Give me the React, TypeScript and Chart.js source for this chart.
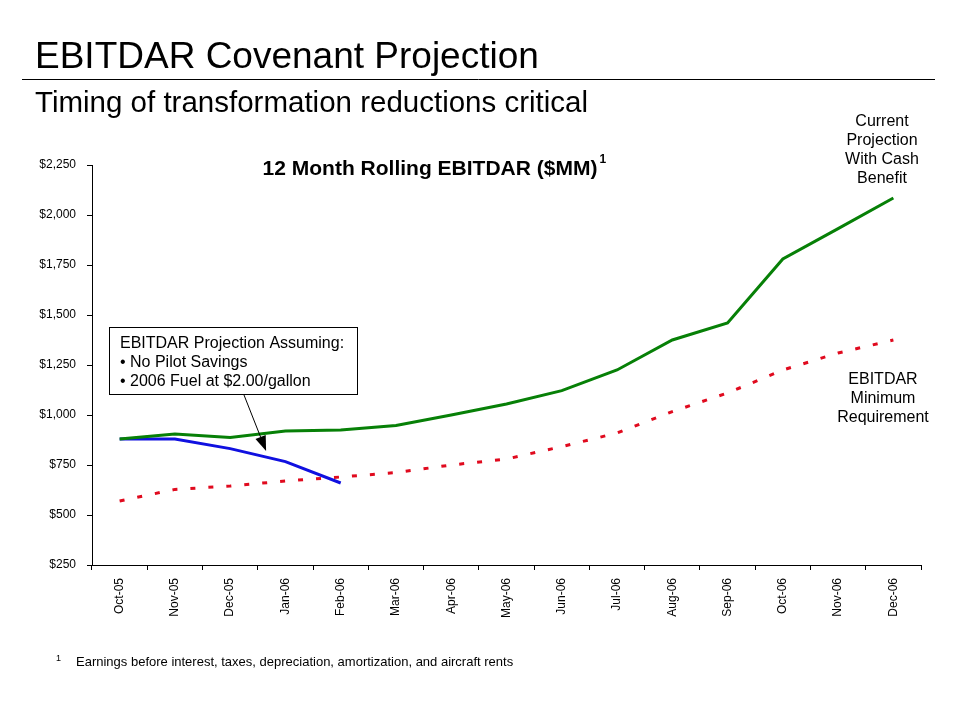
import React, { useEffect, useRef } from "react";
import { Chart, registerables } from "chart.js";

Chart.register(...registerables);

const categories = [
  "Oct-05", "Nov-05", "Dec-05", "Jan-06", "Feb-06", "Mar-06", "Apr-06", "May-06",
  "Jun-06", "Jul-06", "Aug-06", "Sep-06", "Oct-06", "Nov-06", "Dec-06",
];
const currentProjection = [880, 905, 887, 920, 925, 948, 1000, 1055, 1122, 1225, 1375, 1460, 1780, 1932, 2085];
const noPilotSavings = [880, 880, 832, 767, 660, null, null, null, null, null, null, null, null, null, null];
const minimumRequirement = [570, 628, 645, 670, 690, 712, 750, 780, 842, 910, 1017, 1110, 1225, 1310, 1375];
const yMin = 250;
const yMax = 2250;
const yStep = 250;

const FONT = "'Liberation Sans', Arial, Helvetica, sans-serif";

const textPlugin = {
  id: "slideText",
  afterDraw(chart: any) {
    const ctx = chart.ctx as CanvasRenderingContext2D;
    const xs = chart.scales.x;
    const ys = chart.scales.y;
    ctx.save();
    ctx.fillStyle = "#000";
    ctx.textBaseline = "alphabetic";

    // Title
    ctx.textAlign = "left";
    ctx.font = `37px ${FONT}`;
    ctx.fillText("EBITDAR Covenant Projection", 35, 68);
    // rule
    ctx.strokeStyle = "#000";
    ctx.lineWidth = 1;
    ctx.beginPath();
    ctx.moveTo(22, 79.5);
    ctx.lineTo(935, 79.5);
    ctx.stroke();
    // Subtitle
    ctx.font = `29.5px ${FONT}`;
    ctx.fillText("Timing of transformation reductions critical", 35, 112);

    // Chart title
    ctx.font = `bold 21px ${FONT}`;
    const ct = "12 Month Rolling EBITDAR ($MM)";
    const ctw = ctx.measureText(ct).width;
    const ctx0 = 430 - ctw / 2;
    ctx.fillText(ct, ctx0, 175);
    ctx.font = `bold 12px ${FONT}`;
    ctx.fillText("1", ctx0 + ctw + 2, 163);

    // Annotation box
    ctx.fillStyle = "#fff";
    ctx.fillRect(109.5, 327.5, 248, 67);
    ctx.strokeRect(109.5, 327.5, 248, 67);
    ctx.fillStyle = "#000";
    ctx.font = `16px ${FONT}`;
    ctx.fillText("EBITDAR Projection Assuming:", 120, 348);
    ctx.fillText("\u2022 No Pilot Savings", 120, 367);
    ctx.fillText("\u2022 2006 Fuel at $2.00/gallon", 120, 386);

    // Arrow
    const tipX = xs.getPixelForValue(2.65);
    const tipY = ys.getPixelForValue(820);
    const sx = 244;
    const sy = 395;
    const ang = Math.atan2(tipY - sy, tipX - sx);
    const hl = 15;
    const hw = 5.5;
    const bx = tipX - hl * Math.cos(ang);
    const by = tipY - hl * Math.sin(ang);
    ctx.beginPath();
    ctx.moveTo(sx, sy);
    ctx.lineTo(bx, by);
    ctx.stroke();
    ctx.beginPath();
    ctx.moveTo(tipX, tipY);
    ctx.lineTo(bx + hw * Math.sin(ang), by - hw * Math.cos(ang));
    ctx.lineTo(bx - hw * Math.sin(ang), by + hw * Math.cos(ang));
    ctx.closePath();
    ctx.fill();

    // Right labels
    ctx.textAlign = "center";
    ctx.font = `16px ${FONT}`;
    ["Current", "Projection", "With Cash", "Benefit"].forEach((t, i) => {
      ctx.fillText(t, 882, 126 + i * 19);
    });
    ["EBITDAR", "Minimum", "Requirement"].forEach((t, i) => {
      ctx.fillText(t, 883, 384 + i * 19);
    });

    // Footnote
    ctx.textAlign = "left";
    ctx.font = `9px ${FONT}`;
    ctx.fillText("1", 56, 661);
    ctx.font = `13px ${FONT}`;
    ctx.fillText(
      "Earnings before interest, taxes, depreciation, amortization, and aircraft rents",
      76,
      666
    );
    ctx.restore();
  },
};

export default function App() {
  const ref = useRef<HTMLCanvasElement>(null);
  useEffect(() => {
    if (!ref.current) return;
    const chart = new Chart(ref.current, {
      type: "line",
      data: {
        labels: categories,
        datasets: [
          {
            label: "Current Projection With Cash Benefit",
            data: currentProjection,
            borderColor: "#078007",
            borderWidth: 3,
            pointRadius: 0,
            tension: 0,
            fill: false,
            order: 0,
          },
          {
            label: "No Pilot Savings",
            data: noPilotSavings,
            borderColor: "#1010E0",
            borderWidth: 3,
            pointRadius: 0,
            tension: 0,
            fill: false,
            spanGaps: false,
            order: 1,
          },
          {
            label: "EBITDAR Minimum Requirement",
            data: minimumRequirement,
            borderColor: "#E00A1E",
            borderWidth: 3,
            borderDash: [5, 13],
            borderCapStyle: "butt",
            pointRadius: 0,
            tension: 0,
            fill: false,
            order: 2,
          },
        ],
      },
      options: {
        animation: false,
        responsive: false,
        maintainAspectRatio: false,
        layout: { padding: { left: 0, right: 39, top: 165, bottom: 95 } },
        plugins: {
          legend: { display: false },
          tooltip: { enabled: false },
          title: { display: false },
        },
        scales: {
          x: {
            type: "category",
            offset: true,
            border: { display: true, color: "#000", width: 1 },
            grid: {
              display: true,
              offset: true,
              drawOnChartArea: false,
              drawTicks: true,
              tickLength: 5,
              tickColor: "#000",
              color: "#000",
            },
            ticks: {
              color: "#000",
              font: { family: FONT, size: 12 },
              minRotation: 90,
              maxRotation: 90,
              autoSkip: false,
              padding: 8,
            },
            afterFit: (s: any) => {
              s.height = 60;
            },
          },
          y: {
            min: yMin,
            max: yMax,
            border: { display: true, color: "#000", width: 1 },
            grid: {
              display: true,
              drawOnChartArea: false,
              drawTicks: true,
              tickLength: 5,
              tickColor: "#000",
              color: "#000",
            },
            ticks: {
              stepSize: yStep,
              color: "#000",
              font: { family: FONT, size: 12 },
              padding: 11,
              callback: (v: any) => "$" + Number(v).toLocaleString("en-US"),
            },
            afterFit: (s: any) => {
              s.width = 92;
            },
          },
        },
      },
      plugins: [textPlugin],
    });
    return () => chart.destroy();
  }, []);
  return (
    <div style={{ position: "absolute", left: 0, top: 0, width: 960, height: 720, background: "#fff" }}>
      <canvas ref={ref} width={960} height={720} style={{ display: "block" }} />
    </div>
  );
}
